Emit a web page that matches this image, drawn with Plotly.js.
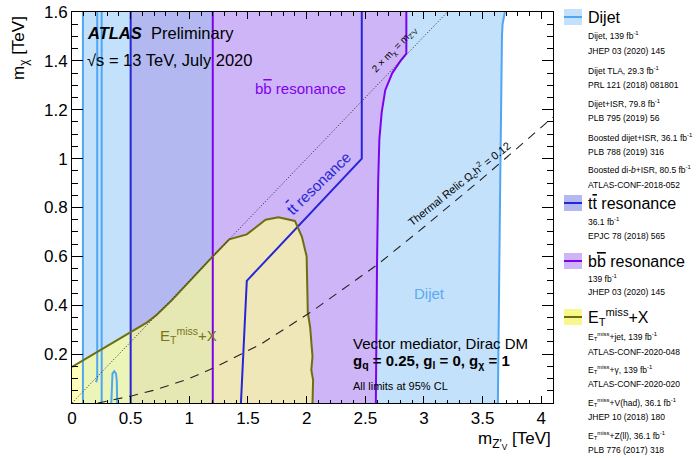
<!DOCTYPE html>
<html><head><meta charset="utf-8">
<script src="https://cdn.plot.ly/plotly-3.0.1.min.js"></script>
<style>html,body{margin:0;padding:0;background:#fff;}</style>
</head><body>
<div id="chart" style="width:697px;height:458px;"></div>
<script>
// ---------- data ----------
// Dijet exclusion contour (TeV): left edge, top, right edge
const dijetX = [0.093, 0.093, 3.69, 3.67, 3.665, 3.655, 3.65, 3.64, 3.63];
const dijetY = [0, 1.6, 1.6, 1.55, 1.5, 1.2, 0.9, 0.45, 0];
// additional dijet (TLA / ISR) contour lines
const dijetAX = [0.215, 0.215, 0.205];
const dijetAY = [1.6, 0.1, 0.085];
const dijetBX = [0.253, 0.253];
const dijetBY = [1.6, 0];
const dijetCX = [0.335, 0.338, 0.345, 0.36, 0.375, 0.382, 0.385];
const dijetCY = [0, 0.09, 0.12, 0.13, 0.12, 0.09, 0];
// ttbar resonance contour
const ttX = [0.5, 0.5, 2.47, 2.47, 1.49, 1.47, 1.45, 1.44];
const ttY = [0, 1.6, 1.6, 1.0, 0.5, 0.3, 0.1, 0];
// bbbar resonance contour
const bbX = [1.2, 1.2, 2.85, 2.85, 2.80, 2.73, 2.67, 2.64, 2.62, 2.61, 2.60, 2.59];
const bbY = [0, 1.6, 1.6, 1.43, 1.40, 1.35, 1.28, 1.19, 1.08, 0.91, 0.57, 0];
// MET+X contour boundary
const metX = [0, 0.49, 0.64, 0.72, 0.85, 1.2, 1.34, 1.49, 1.65, 1.76, 1.9, 1.96, 2.0, 2.01, 2.03, 2.05, 2.04, 2.055, 2.05];
const metY = [0.148, 0.29, 0.33, 0.36, 0.42, 0.6, 0.67, 0.69, 0.75, 0.76, 0.745, 0.68, 0.6, 0.37, 0.31, 0.19, 0.135, 0.094, 0];
// kinematic limit 2 m_chi = m_Z'
const kinX = [0, 3.2];
const kinY = [0, 1.6];
// thermal relic curve
const relicX = [0.22, 0.5, 0.72, 1.0, 1.2, 1.43, 1.6, 2.03, 2.6, 3.0, 3.5, 4.1];
const relicY = [0, 0.028, 0.055, 0.1, 0.142, 0.198, 0.238, 0.37, 0.565, 0.72, 0.92, 1.17];

// ticks
const xTickVals = [0, 0.5, 1, 1.5, 2, 2.5, 3, 3.5, 4];
const xTickText = ['0', '0.5', '1', '1.5', '2', '2.5', '3', '3.5', '4'];
const yTickVals = [0.2, 0.4, 0.6, 0.8, 1, 1.2, 1.4, 1.6];
const yTickText = ['0.2', '0.4', '0.6', '0.8', '1', '1.2', '1.4', '1.6'];

// legend texts
const OL = (c) => "<span style='text-decoration:overline'>" + c + "</span>";
const MET = 'E<sub>T</sub><sup>miss</sup>';
const legendHeaders = ['Dijet', 't' + OL('t') + ' resonance', 'b' + OL('b') + ' resonance', MET + '+X'];
const dijetRefs = ['Dijet, 139 fb<sup>-1</sup>', 'JHEP 03 (2020) 145',
  'Dijet TLA, 29.3 fb<sup>-1</sup>', 'PRL 121 (2018) 081801',
  'Dijet+ISR, 79.8 fb<sup>-1</sup>', 'PLB 795 (2019) 56',
  'Boosted dijet+ISR, 36.1 fb<sup>-1</sup>', 'PLB 788 (2019) 316',
  'Boosted di-<i>b</i>+ISR, 80.5 fb<sup>-1</sup>', 'ATLAS-CONF-2018-052'];
const ttRefs = ['36.1 fb<sup>-1</sup>', 'EPJC 78 (2018) 565'];
const bbRefs = ['139 fb<sup>-1</sup>', 'JHEP 03 (2020) 145'];
const metRefs = [MET + '+jet, 139 fb<sup>-1</sup>', 'ATLAS-CONF-2020-048',
  MET + '+γ, 139 fb<sup>-1</sup>', 'ATLAS-CONF-2020-020',
  MET + '+V(had), 36.1 fb<sup>-1</sup>', 'JHEP 10 (2018) 180',
  MET + '+Z(ll), 36.1 fb<sup>-1</sup>', 'PLB 776 (2017) 318'];

// ---------- styles ----------
const FONT = 'Liberation Sans, Arial, Helvetica, sans-serif';
const C = {
  dijetFill: '#c4e1fb', dijetLine: '#4ea6f4',
  ttFill: '#b3b9f0', ttLine: '#2626d6',
  bbFill: '#cdb5f8', bbLine: '#7f00ee',
  metFill: 'rgba(255,255,150,0.67)', metLine: '#6e6e10', metSwatch: '#f7f78e'
};
const W = 697, H = 458, M = {l: 72, r: 144, t: 12, b: 55};
const PW = W - M.l - M.r, PH = H - M.t - M.b;
const px2p = (px) => (px - M.l) / PW;
const py2p = (py) => (H - M.b - py) / PH;

function fillTr(x, y, color) {
  return {x: x, y: y, type: 'scatter', mode: 'lines', fill: 'toself', fillcolor: color,
    line: {width: 0}, hoverinfo: 'skip', showlegend: false};
}
function lineTr(x, y, color, width, dash) {
  return {x: x, y: y, type: 'scatter', mode: 'lines',
    line: {color: color, width: width, dash: dash || 'solid'}, hoverinfo: 'skip', showlegend: false};
}

const traces = [
  fillTr(dijetX, dijetY, C.dijetFill),
  fillTr(ttX, ttY, C.ttFill),
  fillTr(bbX, bbY, C.bbFill),
  fillTr([0].concat(metX), [0].concat(metY), C.metFill),
  lineTr(dijetX.slice(0, 2), dijetY.slice(0, 2), C.dijetLine, 2),
  lineTr(dijetX.slice(2), dijetY.slice(2), C.dijetLine, 2),
  lineTr(dijetAX, dijetAY, C.dijetLine, 2),
  lineTr(dijetBX, dijetBY, C.dijetLine, 2),
  lineTr(dijetCX, dijetCY, C.dijetLine, 2),
  lineTr(ttX.slice(0, 2), ttY.slice(0, 2), C.ttLine, 2),
  lineTr(ttX.slice(2), ttY.slice(2), C.ttLine, 2),
  lineTr(bbX.slice(0, 2), bbY.slice(0, 2), C.bbLine, 2),
  lineTr(bbX.slice(2), bbY.slice(2), C.bbLine, 2),
  lineTr(metX, metY, C.metLine, 2),
  lineTr(kinX, kinY, '#222', 1, '1px,2px'),
  lineTr(relicX, relicY, '#222', 1.1, '9px,7px')
];

const ann = [];
function txt(x, y, text, opts) {
  ann.push(Object.assign({x: x, y: y, xref: 'x', yref: 'y', text: text, showarrow: false,
    font: {family: FONT, size: 15, color: '#000'}, xanchor: 'center', yanchor: 'middle'}, opts || {}));
}
txt(0.11, 1.514, '<b><i>ATLAS</i></b>\u00a0\u00a0Preliminary', {xanchor: 'left', font: {family: FONT, size: 16.5, color: '#000'}});
txt(0.11, 1.403, '√s = 13 TeV, July 2020', {xanchor: 'left', font: {family: FONT, size: 16.5, color: '#000'}});
txt(1.95, 1.285, 'b' + OL('b') + ' resonance', {font: {family: FONT, size: 15, color: C.bbLine}});
txt(2.097, 0.90, 't' + OL('t') + ' resonance', {textangle: -44, font: {family: FONT, size: 15, color: C.ttLine}});
txt(2.745, 1.444, '2 × m<sub>χ</sub> = m<sub>Z\'</sub><sub>V</sub>', {textangle: -46, font: {family: FONT, size: 10, color: '#000'}});
txt(3.305, 0.895, 'Thermal Relic Ω<sub>c</sub>h<sup>2</sup> = 0.12', {textangle: -38.5, font: {family: FONT, size: 11, color: '#000'}});
txt(3.05, 0.45, 'Dijet', {font: {family: FONT, size: 15, color: '#5aaaf0'}});
txt(0.99, 0.278, MET + '+X', {font: {family: FONT, size: 15, color: '#77771a'}});
txt(2.378, 0.2455, 'Vector mediator, Dirac DM', {xanchor: 'left', font: {family: FONT, size: 15, color: '#000'}});
txt(2.378, 0.168, '<b>g<sub>q</sub> = 0.25, g<sub>l</sub> = 0, g<sub>χ</sub> = 1</b>', {xanchor: 'left', font: {family: FONT, size: 15, color: '#000'}});
txt(2.378, 0.0696, 'All limits at 95% CL', {xanchor: 'left', font: {family: FONT, size: 11, color: '#000'}});

// axis titles
ann.push({xref: 'paper', yref: 'paper', x: px2p(20), y: py2p(48), text: 'm<sub>χ</sub> [TeV]', textangle: -90,
  showarrow: false, font: {family: FONT, size: 17, color: '#000'}, xanchor: 'center', yanchor: 'middle'});
ann.push({xref: 'paper', yref: 'paper', x: 1, y: py2p(440), text: 'm<sub>Z\'<sub>V</sub></sub> [TeV]',
  showarrow: false, font: {family: FONT, size: 17, color: '#000'}, xanchor: 'right', yanchor: 'middle'});

// legend
const shapes = [];
const groups = [
  {head: legendHeaders[0], y: 17, refs: dijetRefs, ys: [36, 51, 70, 85, 103, 118, 137, 152, 170, 185], fill: C.dijetFill, line: C.dijetLine},
  {head: legendHeaders[1], y: 203, refs: ttRefs, ys: [221, 236], fill: C.ttFill, line: C.ttLine},
  {head: legendHeaders[2], y: 261, refs: bbRefs, ys: [278, 292], fill: C.bbFill, line: C.bbLine},
  {head: legendHeaders[3], y: 317, refs: metRefs, ys: [336, 352, 369, 384, 402, 417, 435, 450], fill: C.metSwatch, line: C.metLine}
];
groups.forEach(g => {
  shapes.push({type: 'rect', xref: 'paper', yref: 'paper', x0: px2p(564), x1: px2p(582),
    y0: py2p(g.y + 8), y1: py2p(g.y - 8), fillcolor: g.fill, line: {width: 0}, layer: 'above'});
  shapes.push({type: 'line', xref: 'paper', yref: 'paper', x0: px2p(564), x1: px2p(582),
    y0: py2p(g.y), y1: py2p(g.y), line: {color: g.line, width: 2}, layer: 'above'});
  ann.push({xref: 'paper', yref: 'paper', x: px2p(586), y: py2p(g.y), text: g.head, showarrow: false,
    xanchor: 'left', yanchor: 'middle', font: {family: FONT, size: 16, color: '#000'}});
  g.refs.forEach((r, i) => {
    ann.push({xref: 'paper', yref: 'paper', x: px2p(586), y: py2p(g.ys[i]), text: r, showarrow: false,
      xanchor: 'left', yanchor: 'middle', font: {family: FONT, size: 8.5, color: '#000'}});
  });
});

const axisCommon = {showgrid: false, zeroline: false, showline: true, linecolor: '#000', linewidth: 1,
  mirror: 'allticks', ticks: 'inside', tickcolor: '#000', tickwidth: 1,
  tickfont: {family: FONT, size: 17, color: '#000'}, fixedrange: true};

const layout = {
  width: W, height: H, margin: M, paper_bgcolor: '#fff', plot_bgcolor: '#fff',
  showlegend: false,
  xaxis: Object.assign({}, axisCommon, {range: [0, 4.1], tickmode: 'array', tickvals: xTickVals, ticktext: xTickText,
    ticklen: 7, minor: {tickmode: 'linear', tick0: 0, dtick: 0.1, ticklen: 3.5, ticks: 'inside', tickcolor: '#000'}}),
  yaxis: Object.assign({}, axisCommon, {range: [0, 1.6], tickmode: 'array', tickvals: yTickVals, ticktext: yTickText,
    ticklen: 11, minor: {tickmode: 'linear', tick0: 0, dtick: 0.05, ticklen: 6, ticks: 'inside', tickcolor: '#000'}}),
  annotations: ann, shapes: shapes
};
Plotly.newPlot('chart', traces, layout, {displayModeBar: false, staticPlot: true});
</script>
</body></html>
